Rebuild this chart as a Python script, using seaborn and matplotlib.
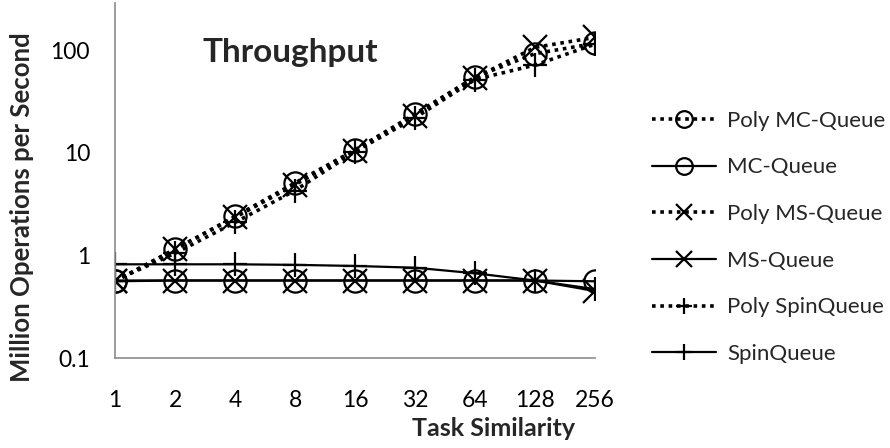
import matplotlib
matplotlib.use("Agg")
import matplotlib.pyplot as plt
import seaborn as sns
import numpy as np
import pandas as pd

similarity = ["1", "2", "4", "8", "16", "32", "64", "128", "256"]
poly_mc = [0.56, 1.15, 2.4, 5.1, 10.7, 24, 55, 93, 117]
mc = [0.57, 0.57, 0.57, 0.57, 0.57, 0.57, 0.57, 0.57, 0.56]
poly_ms = [0.56, 1.15, 2.35, 4.9, 10.5, 23, 54, 107, 134]
ms = [0.56, 0.57, 0.57, 0.57, 0.57, 0.57, 0.57, 0.57, 0.45]
poly_spin = [0.57, 1.05, 2.1, 4.3, 10.3, 22, 52, 72, 115]
spin = [0.82, 0.82, 0.82, 0.81, 0.79, 0.76, 0.67, 0.57, 0.47]

series = [
    ("Poly MC-Queue", poly_mc, "dot", "o"),
    ("MC-Queue", mc, "solid", "o"),
    ("Poly MS-Queue", poly_ms, "dot", "x"),
    ("MS-Queue", ms, "solid", "x"),
    ("Poly SpinQueue", poly_spin, "dot", "+"),
    ("SpinQueue", spin, "solid", "+"),
]

sns.set_theme(style="white")
plt.rcParams["font.family"] = ["Lato", "DejaVu Sans"]

fig = plt.figure(figsize=(8.9, 4.48), dpi=100)
ax = fig.add_axes([115 / 890, 1 - 358 / 448, 480 / 890, 355 / 448])

x = np.arange(len(similarity))
for name, vals, ls, mk in series:
    linestyle = (0, (1, 1.3)) if ls == "dot" else "-"
    lw = 2.6 if ls == "dot" else 1.6
    ms_size = 16 if mk == "o" else 17
    sns.lineplot(x=x, y=vals, ax=ax, label=name, color="black",
                 linestyle=linestyle, linewidth=lw, marker=mk,
                 markersize=ms_size, markerfacecolor="none",
                 markeredgecolor="black", markeredgewidth=1.6)

ax.set_yscale("log")
ax.set_ylim(0.1, 290)
ax.set_xlim(0, 8)
ax.set_xticks(x)
ax.set_xticklabels(similarity)
ax.set_yticks([0.1, 1, 10, 100])
ax.set_yticklabels(["0.1", "1", "10", "100"])
ax.minorticks_off()
ax.yaxis.set_minor_locator(matplotlib.ticker.NullLocator())

for s in ["top", "right"]:
    ax.spines[s].set_visible(False)
for s in ["left", "bottom"]:
    ax.spines[s].set_color("#8c8c8c")
    ax.spines[s].set_linewidth(1.2)
ax.tick_params(axis="both", which="major", direction="out", length=4,
               color="#8c8c8c", width=1.2, labelsize=16.5, colors="#8c8c8c",
               labelcolor="black")
ax.tick_params(axis="y", pad=14)
ax.tick_params(axis="x", pad=19)

ax.set_xlabel("Task Similarity", fontsize=18, fontweight="bold")
ax.xaxis.set_label_coords((494 - 115) / 480, (358 - 428) / 355)
ax.xaxis.label.set_va("center")
ax.set_ylabel("Million Operations per Second", fontsize=18.5, fontweight="bold")
ax.yaxis.set_label_coords((22 - 115) / 480, (358 - 207) / 355)
ax.yaxis.label.set_va("center")

ax.text(0.365, 0.86, "Throughput", transform=ax.transAxes, fontsize=24,
        fontweight="bold", ha="center", va="center")

leg = ax.legend(loc="center left", bbox_to_anchor=(1.1, 0.34), frameon=False,
                fontsize=16, handlelength=2.9, labelspacing=1.2,
                handletextpad=0.5, numpoints=1, borderaxespad=0)
for h in leg.legend_handles:
    h.set_markersize(12)

ax.grid(False)
fig.savefig("out.png", dpi=100)
